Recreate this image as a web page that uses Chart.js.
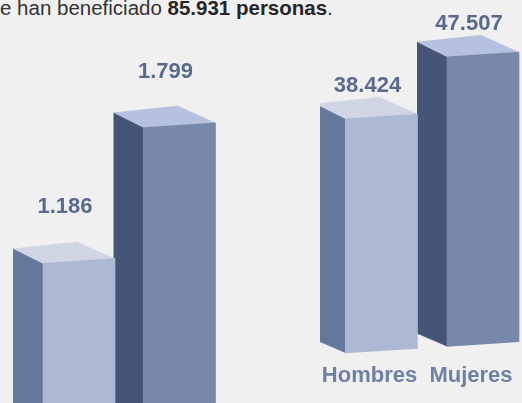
<!DOCTYPE html>
<html>
<head>
<meta charset="utf-8">
<script src="https://cdn.jsdelivr.net/npm/chart.js@4"></script>
<style>
  html, body { margin: 0; padding: 0; width: 522px; height: 403px; overflow: hidden; background: #f0f0f0; }
  #heading {
    position: absolute; left: 0; top: -2px;
    font: 20.5px/20px "Liberation Sans", Arial, sans-serif;
    color: #333; white-space: nowrap;
  }
  #heading b { color: #262626; }
  .box { position: absolute; top: 0; }
  #box-left { left: 0; width: 240px; height: 564px; }
  #box-right { left: 320px; width: 224px; height: 403px; }
</style>
</head>
<body>
<div id="heading">e han beneficiado <b id="total"></b>.</div>
<div class="box" id="box-left"><canvas id="chartLeft"></canvas></div>
<div class="box" id="box-right"><canvas id="chartRight"></canvas></div>
<script>
const categories = ["Hombres", "Mujeres"];
const leftValues = [1186, 1799];
const rightValues = [38424, 47507];

// face colours per bar (Hombres light, Mujeres dark)
const frontColors = ["#adb9d4", "#7788aa"];
const sideColors = ["#66779c", "#465577"];
const topColors = ["#cfd5e3", "#b5c1de"];

const SKEW = 0.065;          // front faces rise slightly to the right
const BACK_L = [-30, -15];   // back-left corner, screen offset from front-left top
const BACK_R = [-38, -17];   // back-right corner, screen offset from front-right top
const SIDE_BOTTOM = -13;

function fmt(v) {
  return String(v).replace(/\B(?=(\d{3})+(?!\d))/g, ".");
}

document.getElementById("total").textContent =
  fmt(rightValues.reduce((a, b) => a + b, 0)) + " personas";

// screen offset -> offset in the skewed drawing space
const pre = (dx, dy) => dy + SKEW * dx;

const bars3d = {
  id: "bars3d",
  beforeDatasetsDraw(chart) {
    const ctx = chart.ctx;
    const bars = chart.getDatasetMeta(0).data;
    const x0 = bars[0].x - bars[0].width / 2;
    ctx.save();
    ctx.transform(1, -SKEW, 0, 1, 0, SKEW * x0);
    for (let i = bars.length - 1; i >= 0; i--) {
      const { x, y, base, width } = bars[i].getProps(["x", "y", "base", "width"], true);
      const L = x - width / 2, R = x + width / 2;
      // side face
      ctx.fillStyle = sideColors[i];
      ctx.beginPath();
      ctx.moveTo(L, y);
      ctx.lineTo(L + BACK_L[0], y + pre(BACK_L[0], BACK_L[1]));
      ctx.lineTo(L + BACK_L[0], base + pre(BACK_L[0], SIDE_BOTTOM));
      ctx.lineTo(L, base);
      ctx.closePath();
      ctx.fill();
      // top face
      ctx.fillStyle = topColors[i];
      ctx.beginPath();
      ctx.moveTo(L, y);
      ctx.lineTo(L + BACK_L[0], y + pre(BACK_L[0], BACK_L[1]));
      ctx.lineTo(R + BACK_R[0], y + pre(BACK_R[0], BACK_R[1]));
      ctx.lineTo(R, y);
      ctx.closePath();
      ctx.fill();
    }
  },
  afterDatasetsDraw(chart, args, opts) {
    const ctx = chart.ctx;
    ctx.restore();
    const bars = chart.getDatasetMeta(0).data;
    const values = chart.data.datasets[0].data;
    const x0 = bars[0].x - bars[0].width / 2;
    ctx.save();
    ctx.font = 'bold 22px "Liberation Sans", Arial, sans-serif';
    ctx.fillStyle = "#5a6a8f";
    ctx.textAlign = "center";
    ctx.textBaseline = "middle";
    bars.forEach((bar, i) => {
      const { x, y, width } = bar.getProps(["x", "y", "width"], true);
      const L = x - width / 2, R = x + width / 2;
      const topLeft = y - SKEW * (L - x0);
      ctx.fillText(fmt(values[i]), (L + BACK_L[0] + R) / 2 + 1, topLeft - opts.gap);
    });
    ctx.restore();
  },
};

function makeChart(id, values, yMax, padding, gap) {
  return new Chart(document.getElementById(id), {
    type: "bar",
    data: {
      labels: categories,
      datasets: [{
        data: values,
        backgroundColor: frontColors,
        borderWidth: 0,
        barThickness: 72,
        clip: false,
      }],
    },
    options: {
      responsive: true,
      maintainAspectRatio: false,
      animation: false,
      layout: { padding },
      plugins: {
        legend: { display: false },
        tooltip: { enabled: false },
        bars3d: { gap },
      },
      scales: {
        x: {
          grid: { display: false, drawTicks: false },
          border: { display: false },
          ticks: {
            color: "#6f80a6",
            font: { family: '"Liberation Sans", Arial, sans-serif', size: 22, weight: "bold", lineHeight: 1.2 },
            padding: 10,
            labelOffset: -12,
            maxRotation: 0,
          },
        },
        y: { display: false, min: 0, max: yMax },
      },
    },
    plugins: [bars3d],
  });
}

makeChart("chartLeft", leftValues, 2150, { left: 28.75, right: 10.25, top: 60, bottom: 4 }, 56);
makeChart("chartRight", rightValues, 49700, { left: 10.75, right: 10.25, top: 50, bottom: 3.6 }, 33);
</script>
</body>
</html>
